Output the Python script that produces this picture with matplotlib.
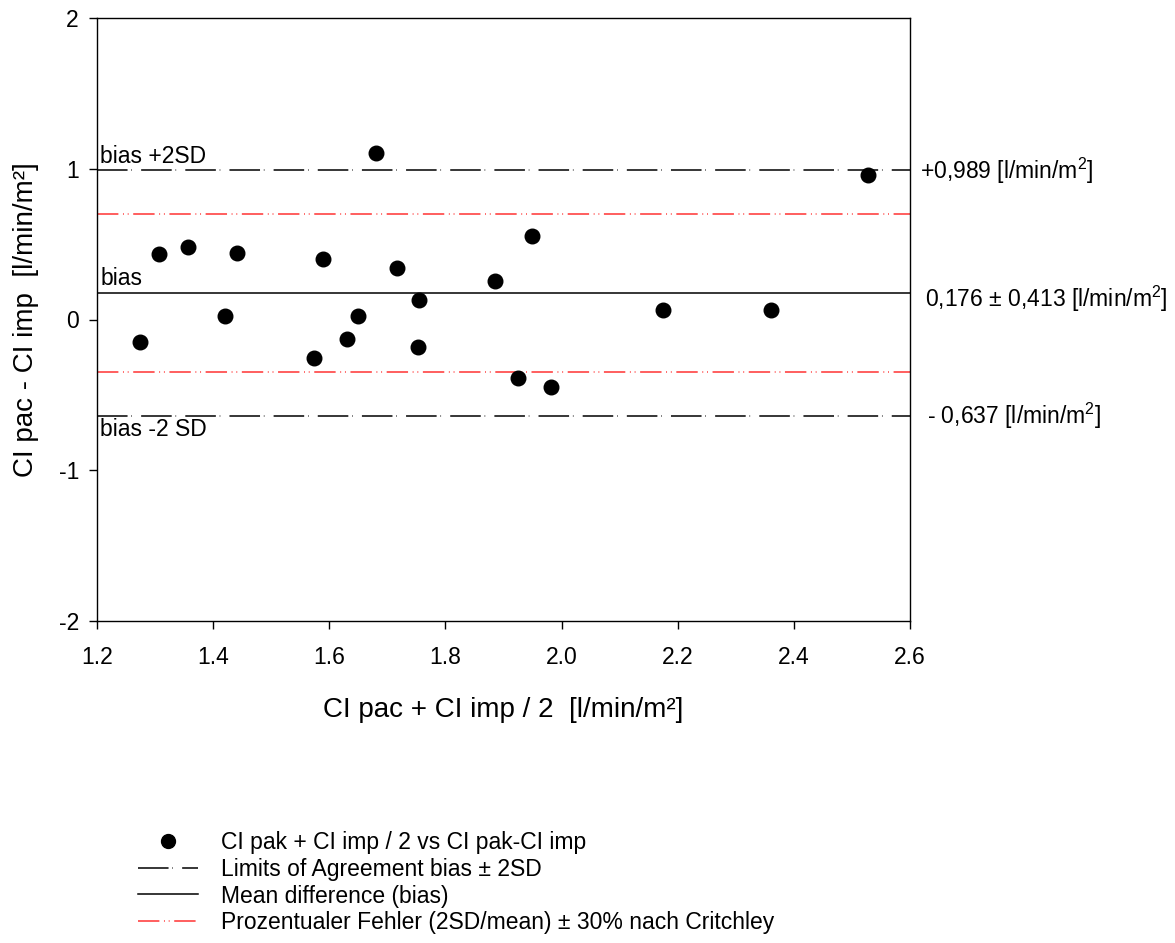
import matplotlib
matplotlib.use("Agg")
import matplotlib.pyplot as plt
from matplotlib.lines import Line2D

plt.rcParams['font.family'] = ['Liberation Sans', 'DejaVu Sans']
plt.rcParams['mathtext.fontset'] = 'custom'
plt.rcParams['mathtext.rm'] = 'Liberation Sans'
plt.rcParams['mathtext.it'] = 'Liberation Sans'
plt.rcParams['axes.unicode_minus'] = False

# data
mean_vals = [1.274, 1.307, 1.357, 1.420, 1.441, 1.574, 1.589, 1.631, 1.649, 1.680,
             1.717, 1.754, 1.753, 1.885, 1.925, 1.949, 1.982, 2.175, 2.361, 2.528]
diff_vals = [-0.149, 0.434, 0.481, 0.023, 0.441, -0.255, 0.401, -0.129, 0.023, 1.105,
             0.342, 0.129, -0.182, 0.255, -0.388, 0.554, -0.448, 0.063, 0.063, 0.959]
bias = 0.176
upper_loa = 0.989
lower_loa = -0.637
crit_upper = 0.703
crit_lower = -0.351
x_ticks = [1.2, 1.4, 1.6, 1.8, 2.0, 2.2, 2.4, 2.6]
y_ticks = [-2, -1, 0, 1, 2]
legend_labels = ["CI pak + CI imp / 2 vs CI pak-CI imp",
                 "Limits of Agreement bias \u00b1 2SD",
                 "Mean difference (bias)",
                 "Prozentualer Fehler (2SD/mean) \u00b1 30% nach Critchley"]

fig = plt.figure(figsize=(11.75, 9.43), dpi=100)
ax = fig.add_axes([97/1175, 1 - 621/943, (910-97)/1175, (621-18)/943])

dash_style = (0, (20, 2.5, 0.4, 6))
red_style = (0, (14, 3, 0.6, 2.5, 0.6, 3))
red_col = '#ff3333'
lw = 1.1

ax.axhline(upper_loa, color='black', lw=lw, linestyle=dash_style, zorder=2)
ax.axhline(lower_loa, color='black', lw=lw, linestyle=dash_style, zorder=2)
ax.axhline(bias, color='black', lw=lw, linestyle='-', zorder=2)
ax.axhline(crit_upper, color=red_col, lw=lw, linestyle=red_style, zorder=2)
ax.axhline(crit_lower, color=red_col, lw=lw, linestyle=red_style, zorder=2)

ax.scatter(mean_vals, diff_vals, s=110, color='black', zorder=3)

ax.set_xlim(1.2, 2.6)
ax.set_ylim(-2, 2)
ax.set_xticks(x_ticks)
ax.set_xticklabels([f"{t:.1f}" for t in x_ticks])
ax.set_yticks(y_ticks)
ax.set_yticklabels([str(t) for t in y_ticks])
ax.tick_params(direction='out', length=6, width=1, labelsize=16.5)
ax.tick_params(axis='x', pad=12)
ax.tick_params(axis='y', pad=7)
for s in ax.spines.values():
    s.set_linewidth(1.0)

ax.set_xlabel("CI pac + CI imp / 2  [l/min/m\u00b2]", fontsize=20, labelpad=20)
ax.set_ylabel("CI pac - CI imp  [l/min/m\u00b2]", fontsize=20, labelpad=14)

fs = 16.5
# in-axes annotations
ax.annotate("bias +2SD", xy=(0.004, upper_loa), xycoords=('axes fraction', 'data'),
            xytext=(0, 2), textcoords='offset points', fontsize=fs, va='bottom', ha='left')
ax.annotate("bias", xy=(0.004, bias), xycoords=('axes fraction', 'data'),
            xytext=(0, 2), textcoords='offset points', fontsize=fs, va='bottom', ha='left')
ax.annotate("bias -2 SD", xy=(0.004, lower_loa), xycoords=('axes fraction', 'data'),
            xytext=(0, -2), textcoords='offset points', fontsize=fs, va='top', ha='left')

# right side annotations
ax.annotate("+0,989 [l/min/m$^2$]", xy=(1.0125, upper_loa), xycoords=('axes fraction', 'data'),
            fontsize=fs, va='center', ha='left', annotation_clip=False)
ax.annotate("0,176 \u00b1 0,413 [l/min/m$^2$]", xy=(1.018, bias - 0.04), xycoords=('axes fraction', 'data'),
            fontsize=fs, va='center', ha='left', annotation_clip=False)
ax.annotate("- 0,637 [l/min/m$^2$]", xy=(1.021, lower_loa), xycoords=('axes fraction', 'data'),
            fontsize=fs, va='center', ha='left', annotation_clip=False)

handles = [
    Line2D([], [], marker='o', color='black', linestyle='none', markersize=10),
    Line2D([], [], color='black', lw=lw, linestyle=dash_style),
    Line2D([], [], color='black', lw=lw, linestyle='-'),
    Line2D([], [], color=red_col, lw=lw, linestyle=red_style),
]
fig.legend(handles, legend_labels, loc='upper left', bbox_to_anchor=(129/1175, 1 - 822/943),
           frameon=False, fontsize=fs, handlelength=2.6, handletextpad=1.0,
           labelspacing=0.16, borderaxespad=0)

fig.savefig("out.png", dpi=100)
